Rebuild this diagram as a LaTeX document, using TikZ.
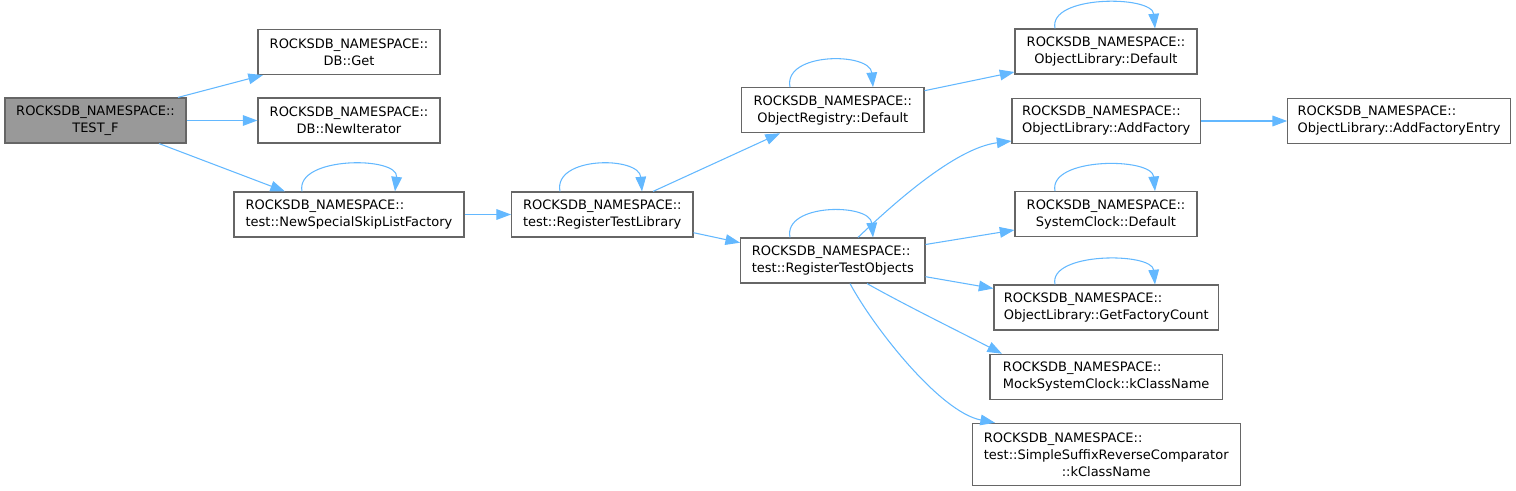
\documentclass[tikz,border=0pt]{standalone}
\usepackage{fontspec}
\setmainfont{DejaVu Sans}
\usetikzlibrary{arrows.meta}
\definecolor{edgeblue}{HTML}{63B8FF}
\definecolor{boxgray}{HTML}{666666}
\definecolor{nodegray}{HTML}{999999}
\newcommand\nsp{ROCKSDB\_NAMESPACE::}
\begin{document}
\begin{tikzpicture}[x=0.75pt,y=-0.75pt,
  box/.style={draw=boxgray, line width=0.85pt, fill=white, inner sep=0pt,
    minimum height=33.75pt, font=\fontsize{9.75pt}{12.75pt}\selectfont},
  wd/.style={minimum width=#1*0.75pt},
  edge/.style={draw=edgeblue, line width=0.8pt,
    -{Triangle[length=11pt,width=8pt]}}]
\useasboundingbox (0,0) rectangle (1516,491);

\node[box, wd=181, fill=nodegray, align=center] (testf) at (95.5,120.5) {\nsp\\TEST\_F};
\node[box, wd=182, align=center] (get) at (349,52) {\nsp\\DB::Get};
\node[box, wd=182, align=center] (newit) at (349,120.5) {\nsp\\DB::NewIterator};
\node[box, wd=230, align=left] (nsslf) at (349,214.5) {\nsp\\test::NewSpecialSkipListFactory};
\node[box, wd=181.3, align=left] (rtl) at (602.3,214.5) {\nsp\\test::RegisterTestLibrary};
\node[box, wd=182.3, align=center] (ord) at (832.8,110.2) {\nsp\\ObjectRegistry::Default};
\node[box, wd=184.3, align=left] (rto) at (832.8,260.5) {\nsp\\test::RegisterTestObjects};
\node[box, wd=182, align=center] (old) at (1106,51.5) {\nsp\\ObjectLibrary::Default};
\node[box, wd=188.3, align=left] (olaf) at (1106.2,121) {\nsp\\ObjectLibrary::AddFactory};
\node[box, wd=222.6, align=left] (olafe) at (1399,121) {\nsp\\ObjectLibrary::AddFactoryEntry};
\node[box, wd=182, align=center] (scd) at (1106,214.2) {\nsp\\SystemClock::Default};
\node[box, wd=224.3, align=left] (gfc) at (1106.2,307.5) {\nsp\\ObjectLibrary::GetFactoryCount};
\node[box, wd=232.3, align=left] (msc) at (1106.2,376.8) {\nsp\\MockSystemClock::kClassName};
\node[box, wd=267.7, minimum height=46.3pt, align=center] (ssrc) at (1106.2,454.2)
  {\rlap{\nsp}\phantom{test::SimpleSuffixReverseComparator}\\test::SimpleSuffixReverseComparator\\::kClassName};

% edges
\draw[edge] (testf.north -| 178,0) -- (get.south -| 263,0);
\draw[edge] (testf.east) -- (newit.west);
\draw[edge] (testf.south -| 159,0) -- (nsslf.north -| 285,0);
\draw[edge] (nsslf.north -| 302,0) .. controls (295,156) and (399,156) .. (nsslf.north -| 395,0);
\draw[edge] (nsslf.east) -- (rtl.west);
\draw[edge] (rtl.north -| 560,0) .. controls (553,156) and (639,156) .. (rtl.north -| 642,0);
\draw[edge] (rtl.north -| 653,0) -- (ord.south -| 780,0);
\draw[edge] (rtl.east |- 0,232.7) -- (rto.west |- 0,242.7);
\draw[edge] (ord.north -| 790,0) .. controls (783,52) and (870,52) .. (ord.north -| 873,0);
\draw[edge] (rto.north -| 790,0) .. controls (783,203) and (870,203) .. (rto.north -| 873,0);
\draw[edge] (ord.east |- 0,90.7) -- (old.west |- 0,72);
\draw[edge] (old.north -| 1055,0) .. controls (1048,-5) and (1152,-5) .. (old.north -| 1155,0);
\draw[edge] (rto.north -| 858,0) .. controls (892,205) and (955,148) .. (olaf.west |- 0,141);
\draw[edge] (olaf.east) -- (olafe.west);
\draw[edge] (scd.north -| 1055,0) .. controls (1048,157) and (1152,157) .. (scd.north -| 1155,0);
\draw[edge] (rto.east |- 0,244.5) -- (scd.west |- 0,230);
\draw[edge] (rto.east |- 0,276.7) -- (gfc.west |- 0,288.5);
\draw[edge] (gfc.north -| 1055,0) .. controls (1048,252) and (1152,252) .. (gfc.north -| 1155,0);
\draw[edge] (rto.south -| 867,0) .. controls (905,305) and (960,332) .. (msc.north -| 1002,0);
\draw[edge] (rto.south -| 850,0) .. controls (874,328) and (940,412) .. (ssrc.north -| 995,0);
\end{tikzpicture}
\end{document}
